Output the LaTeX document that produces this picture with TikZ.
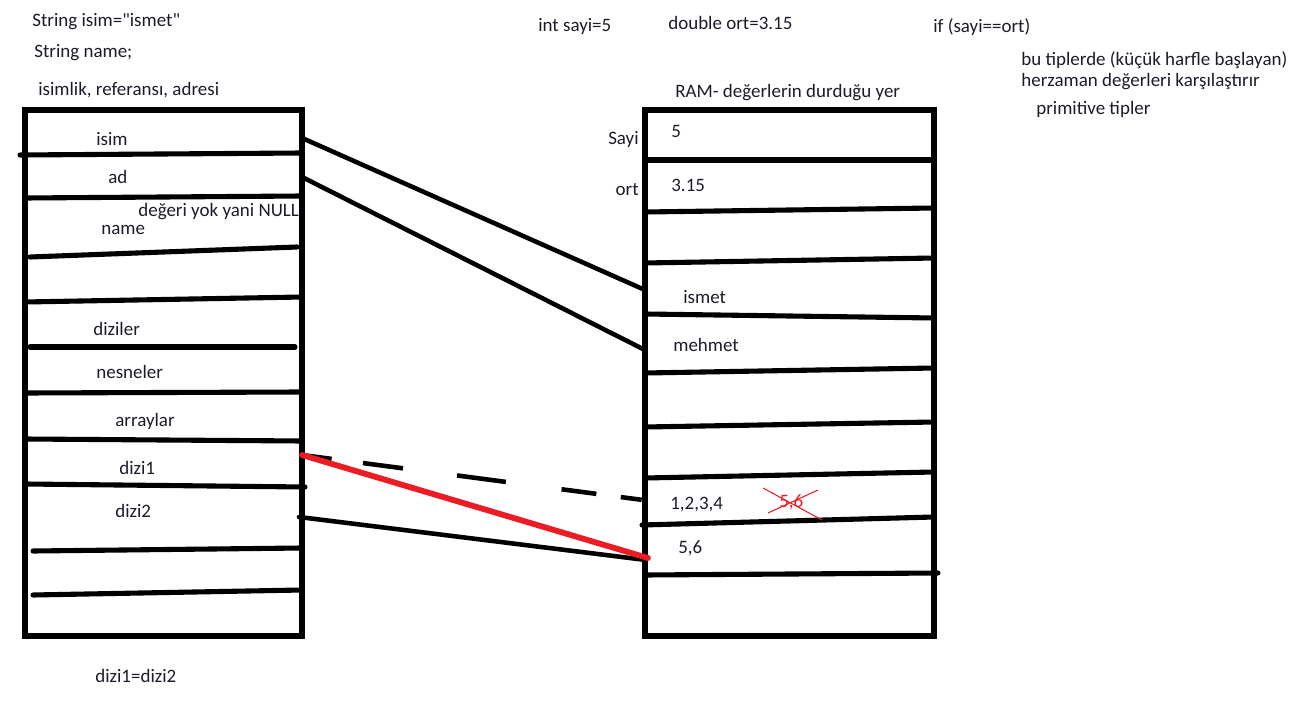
\documentclass[tikz,border=0pt]{standalone}
\usepackage{fontspec}
\setmainfont{Carlito}
\usetikzlibrary{positioning}
\definecolor{labeltext}{RGB}{28,28,40}
\definecolor{paintred}{RGB}{237,28,36}

\begin{document}
\begin{tikzpicture}[
x=0.02cm,
y=-0.02cm,
frame/.style={
  line width=2.9pt
  },
sep/.style={
  line width=2.9pt,
  line cap=round
  },
txt/.style={
  font=\fontsize{10.8}{13}\selectfont,
  text=labeltext,
  inner sep=0pt,
  anchor=west
  },
link/.style={
  line width=2.6pt,
  line cap=round
  },
reflink/.style={
  link,
  draw=paintred,
  line width=3.3pt
  }
]
\useasboundingbox (0,0) rectangle (1303,706);

% notes on top
\node[txt] (strisim) at (32,22) {String isim=\textquotedbl ismet\textquotedbl};
\node[txt] (strname) at (34,53) {String name;};
\node[txt] (stacktitle) at (38,90) {isimlik, referansı, adresi};
\node[txt] (intsayi) at (538,27) {int sayi=5};
\node[txt] (dblort) at (668,23) {double ort=3.15};
\node[txt] (ifcmp) at (933,27) {if (sayi==ort)};
\node[txt] (note1) at (1021,60) {bu tiplerde (küçük harfle başlayan)};
\node[txt] (note2) at (1021,82) {herzaman değerleri karşılaştırır};
\node[txt] (note3) at (1036,109) {primitive tipler};

% left box: names / references
\draw[frame] (25,110) rectangle (302,636);
\foreach \xa/\ya/\xb/\yb in {20/155/302/153, 25/198/302/196, 30/257/297/247,
  25/302/302/297, 30/347/295/347, 25/393/302/392, 25/439/302/441,
  25/484/305/487, 33/551/302/548, 33/595/302/590}
  \draw[sep] (\xa,\ya) -- (\xb,\yb);
\node[txt] (isim) at (96,139) {isim};
\node[txt] (ad) at (108,177) {ad};
\node[txt] (nullnote) at (138,212) {değeri yok yani NULL};
\node[txt] (name) at (101,230) {name};
\node[txt] (diziler) at (93,329) {diziler};
\node[txt] (nesneler) at (96,372) {nesneler};
\node[txt] (arraylar) at (115,421) {arraylar};
\node[txt] (dizi1) at (119,468) {dizi1};
\node[txt] (dizi2) at (115,511) {dizi2};
\node[txt] (assign) at (95,676) {dizi1=dizi2};

% right box: RAM
\node[txt] (ramtitle) at (675,93) {RAM- değerlerin durduğu yer};
\draw[frame] (645,110) rectangle (934,636);
\foreach \xa/\ya/\xb/\yb in {645/160/934/160, 645/212/934/208, 645/263/934/258,
  645/314/934/318, 645/373/934/368, 645/427/934/422, 645/478/934/472,
  642/525/934/517, 645/575/938/573}
  \draw[sep] (\xa,\ya) -- (\xb,\yb);
\node[txt,anchor=east] (sayi) at (639,140) {Sayi};
\node[txt,anchor=east] (ort) at (639,190) {ort};
\node[txt] (v5) at (671,131) {5};
\node[txt] (v315) at (671,185) {3.15};
\node[txt] (ismet) at (683,297) {ismet};
\node[txt] (mehmet) at (673,345) {mehmet};
\node[txt] (v1234) at (670,505) {1,2,3,4};
\node[txt,text=paintred] (v56old) at (779,502) {5,6};
\draw[paintred,line width=0.6pt] (763,488) -- (822,520) (768,513) -- (818,490);
\node[txt] (v56) at (678,548) {5,6};

% references
\coordinate (isimP) at (302,138);
\coordinate (ismetV) at (645,290);
\coordinate (adP) at (302,177);
\coordinate (mehmetV) at (645,350);
\coordinate (dizi1P) at (302,455);
\coordinate (oldV) at (643,500);
\coordinate (newV) at (648,558);
\coordinate (dizi2P) at (299,517);
\coordinate (dizi2V) at (646,560);
\draw[link] (isimP) -- (ismetV);
\draw[link] (adP) -- (mehmetV);
\draw[link,line cap=butt,dash pattern=on 17pt off 18pt on 23pt off 31pt on 28pt off 32pt on 20pt off 14pt on 12pt off 40pt] (dizi1P) -- (oldV);
\draw[link] (dizi2P) -- (dizi2V);
\draw[reflink] (dizi1P) -- (newV);
\end{tikzpicture}
\end{document}
